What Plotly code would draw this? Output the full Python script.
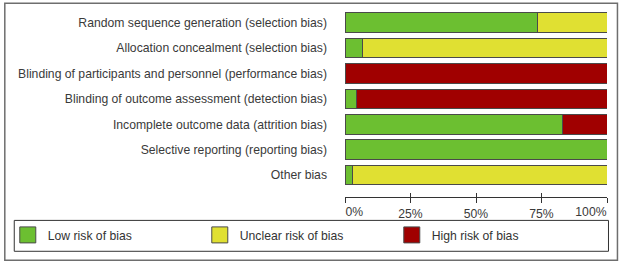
import plotly.graph_objects as go

domains = [
    "Random sequence generation (selection bias)",
    "Allocation concealment (selection bias)",
    "Blinding of participants and personnel (performance bias)",
    "Blinding of outcome assessment (detection bias)",
    "Incomplete outcome data (attrition bias)",
    "Selective reporting (reporting bias)",
    "Other bias",
]
low = [73.3, 6.8, 0.0, 4.5, 83.2, 100.0, 2.7]
unclear = [26.7, 93.2, 0.0, 0.0, 0.0, 0.0, 97.3]
high = [0.0, 0.0, 100.0, 95.5, 16.8, 0.0, 0.0]
series_names = ["Low risk of bias", "Unclear risk of bias", "High risk of bias"]
colors = ["#6cbf31", "#e0e032", "#a00000"]
tick_vals = [0, 25, 50, 75, 100]
tick_text = ["0%", "25%", "50%", "75%", "100%"]

W, H = 621, 265
L, R, T, B = 344.5, 13.5, 9.75, 67.5
pw, ph = W - L - R, H - T - B
XR = [-0.001, 100.001]

def px2x(px):
    return (px - L) / pw

def py2y(py):
    return (H - B - py) / ph

fig = go.Figure()
for name, vals, col in zip(series_names, [low, unclear, high], colors):
    fig.add_trace(go.Bar(
        y=domains, x=vals, name=name, orientation="h",
        marker=dict(color=col, line=dict(color="#4a4a4a", width=1)),
        width=0.765, showlegend=False,
    ))
# legend entries (large square swatches)
for name, col in zip(series_names, colors):
    fig.add_trace(go.Scatter(
        x=[None], y=[None], mode="markers", name=name,
        marker=dict(symbol="square", size=16, color=col, line=dict(color="#4a4a4a", width=1)),
        hoverinfo="skip",
    ))
for ax in ["x2", "x3", "x4"]:
    fig.add_trace(go.Scatter(x=[None], y=[None], xaxis=ax, showlegend=False, hoverinfo="skip"))

txt = dict(family="Liberation Sans, Arial, sans-serif", size=12.2, color="#3a3a3a")
tcol = "#333333"

overlay_common = dict(
    range=XR, overlaying="x", anchor="y", side="bottom",
    showgrid=False, zeroline=False, showline=False, automargin=False,
    tickcolor=tcol, tickwidth=1, tickfont=txt, fixedrange=True,
)

fig.update_layout(
    width=W, height=H,
    margin=dict(l=L, r=R, t=T, b=B, pad=0, autoexpand=False),
    paper_bgcolor="white", plot_bgcolor="white",
    barmode="stack",
    font=txt,
    showlegend=True,
    legend=dict(
        orientation="h", x=px2x(6), y=py2y(221), xanchor="left", yanchor="top",
        xref="paper", yref="paper",
        font=dict(family="Liberation Sans, Arial, sans-serif", size=12.2, color="#333333"),
        entrywidth=147, itemwidth=30, bgcolor="rgba(0,0,0,0)", borderwidth=0,
        traceorder="normal", itemsizing="trace",
    ),
    # main axis: line, outward ticks, centred middle labels
    xaxis=dict(
        range=XR, tickvals=tick_vals,
        ticktext=[""] + tick_text[1:-1] + [""],
        showgrid=False, zeroline=False, showline=True, linecolor=tcol, linewidth=1,
        ticks="outside", ticklen=5, tickcolor=tcol, tickwidth=1,
        tickfont=txt, fixedrange=True, automargin=False,
    ),
    # first label to the right of its tick
    xaxis2=dict(overlay_common, tickvals=tick_vals[:1], ticktext=tick_text[:1],
                ticks="outside", ticklen=5, ticklabelposition="outside right",
                ticklabelstandoff=3),
    # last label to the left of its tick
    xaxis3=dict(overlay_common, tickvals=tick_vals[-1:], ticktext=tick_text[-1:],
                ticks="outside", ticklen=5, ticklabelposition="outside left",
                ticklabelstandoff=3),
    # inward part of the ticks (ticks cross the axis line)
    xaxis4=dict(overlay_common, tickvals=tick_vals, showticklabels=False,
                ticks="inside", ticklen=4),
    yaxis=dict(
        range=[6 + 22 / 25.5, -0.5], showgrid=False, zeroline=False, showline=False,
        ticks="", tickfont=txt, ticklabelstandoff=17, fixedrange=True, automargin=False,
    ),
    shapes=[
        dict(type="rect", xref="paper", yref="paper",
             x0=px2x(3), x1=px2x(618), y0=py2y(3), y1=py2y(261),
             line=dict(color="#6e6e6e", width=1.5), fillcolor="rgba(0,0,0,0)", layer="below"),
        dict(type="rect", xref="paper", yref="paper",
             x0=px2x(12.5), x1=px2x(609), y0=py2y(221), y1=py2y(252),
             line=dict(color="#333333", width=1), fillcolor="rgba(0,0,0,0)", layer="below"),
    ],
)

fig.write_html("out.html")
